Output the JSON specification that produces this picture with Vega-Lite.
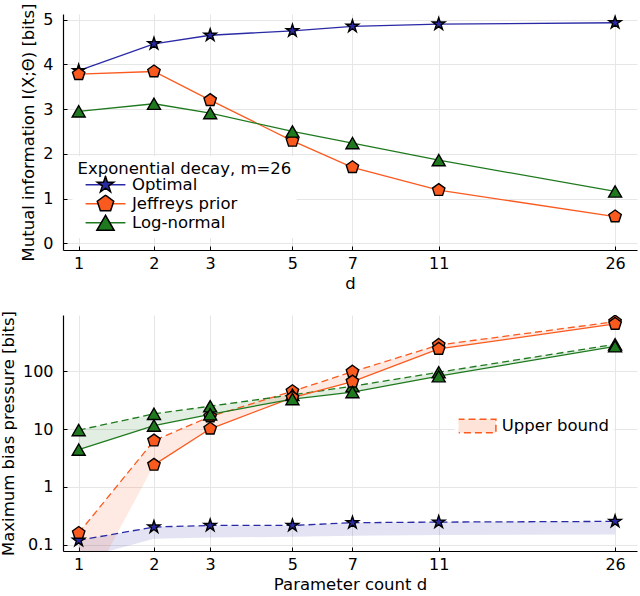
{
  "$schema": "https://vega.github.io/schema/vega-lite/v6.json",
  "background": "white",
  "padding": {"left": 0, "top": 3, "right": 3, "bottom": 2},
  "spacing": 18,
  "datasets": {
    "mi": [
      {"d": 1, "method": "Optimal", "mi": 3.86},
      {"d": 2, "method": "Optimal", "mi": 4.46},
      {"d": 3, "method": "Optimal", "mi": 4.65},
      {"d": 5, "method": "Optimal", "mi": 4.75},
      {"d": 7, "method": "Optimal", "mi": 4.85},
      {"d": 11, "method": "Optimal", "mi": 4.9},
      {"d": 26, "method": "Optimal", "mi": 4.93},
      {"d": 1, "method": "Jeffreys prior", "mi": 3.78},
      {"d": 2, "method": "Jeffreys prior", "mi": 3.84},
      {"d": 3, "method": "Jeffreys prior", "mi": 3.2},
      {"d": 5, "method": "Jeffreys prior", "mi": 2.29},
      {"d": 7, "method": "Jeffreys prior", "mi": 1.7},
      {"d": 11, "method": "Jeffreys prior", "mi": 1.19},
      {"d": 26, "method": "Jeffreys prior", "mi": 0.6},
      {"d": 1, "method": "Log-normal", "mi": 2.95},
      {"d": 2, "method": "Log-normal", "mi": 3.12},
      {"d": 3, "method": "Log-normal", "mi": 2.91},
      {"d": 5, "method": "Log-normal", "mi": 2.5},
      {"d": 7, "method": "Log-normal", "mi": 2.24},
      {"d": 11, "method": "Log-normal", "mi": 1.86},
      {"d": 26, "method": "Log-normal", "mi": 1.16}
    ],
    "bias": [
      {"d": 1, "method": "Optimal", "upper": 0.119, "actual": null, "lower": 0.056},
      {"d": 2, "method": "Optimal", "upper": 0.202, "actual": null, "lower": 0.127},
      {"d": 3, "method": "Optimal", "upper": 0.215, "actual": null, "lower": 0.133},
      {"d": 5, "method": "Optimal", "upper": 0.215, "actual": null, "lower": 0.137},
      {"d": 7, "method": "Optimal", "upper": 0.24, "actual": null, "lower": 0.143},
      {"d": 11, "method": "Optimal", "upper": 0.246, "actual": null, "lower": 0.147},
      {"d": 26, "method": "Optimal", "upper": 0.253, "actual": null, "lower": 0.15},
      {"d": 1, "method": "Jeffreys prior", "upper": 0.159, "actual": null, "lower": 0.009},
      {"d": 2, "method": "Jeffreys prior", "upper": 6.3, "actual": 2.4, "lower": 2.4},
      {"d": 3, "method": "Jeffreys prior", "upper": 16.5, "actual": 10.1, "lower": 10.1},
      {"d": 5, "method": "Jeffreys prior", "upper": 45, "actual": 35, "lower": 35},
      {"d": 7, "method": "Jeffreys prior", "upper": 98, "actual": 66, "lower": 66},
      {"d": 11, "method": "Jeffreys prior", "upper": 284, "actual": 243, "lower": 243},
      {"d": 26, "method": "Jeffreys prior", "upper": 719, "actual": 656, "lower": 656},
      {"d": 1, "method": "Log-normal", "upper": 9.6, "actual": 4.4, "lower": 4.4},
      {"d": 2, "method": "Log-normal", "upper": 18.3, "actual": 11.5, "lower": 11.5},
      {"d": 3, "method": "Log-normal", "upper": 24.8, "actual": 18, "lower": 18},
      {"d": 5, "method": "Log-normal", "upper": 39, "actual": 33, "lower": 33},
      {"d": 7, "method": "Log-normal", "upper": 55, "actual": 43.5, "lower": 43.5},
      {"d": 11, "method": "Log-normal", "upper": 96, "actual": 82, "lower": 82},
      {"d": 26, "method": "Log-normal", "upper": 292, "actual": 270, "lower": 270}
    ]
  },
  "vconcat": [
    {
      "width": 574,
      "height": 236,
      "data": {"name": "mi"},
      "encoding": {
        "x": {
          "field": "d", "type": "quantitative", "title": "d",
          "scale": {"type": "symlog", "constant": 1.5, "domain": [0.8306, 28.83], "nice": false, "zero": false},
          "axis": {"values": [1, 2, 3, 5, 7, 11, 26], "labelFlush": false, "labelOverlap": false}
        },
        "y": {
          "field": "mi", "type": "quantitative", "title": "Mutual information I(X;Θ) [bits]",
          "scale": {"domain": [-0.148, 5.125], "nice": false, "zero": false},
          "axis": {"values": [0, 1, 2, 3, 4, 5], "labelOverlap": false}
        }
      },
      "layer": [
        {
          "mark": {"type": "line", "strokeWidth": 1.3},
          "encoding": {
            "color": {
              "field": "method", "type": "nominal",
              "scale": {"domain": ["Optimal", "Jeffreys prior", "Log-normal"], "range": ["#2a2aa6", "#fb5a1f", "#1f7a1f"]},
              "legend": {
                "orient": "none", "legendX": 9.5, "legendY": 142,
                "title": "Exponential decay, m=26", "titlePadding": -2, "titleLimit": 400,
                "symbolType": "M-2.3,0L2.3,0", "symbolSize": 300, "symbolStrokeWidth": 1.5,
                "clipHeight": 18.7, "rowPadding": 0, "symbolOffset": 18.5, "labelOffset": 17,
                "fillColor": "white", "padding": 5
              }
            }
          }
        },
        {
          "mark": {"type": "point", "filled": true, "size": 170, "stroke": "black", "strokeWidth": 1.4, "opacity": 1},
          "encoding": {
            "color": {
              "field": "method", "type": "nominal",
              "scale": {"domain": ["Optimal", "Jeffreys prior", "Log-normal"], "range": ["#2a2aa6", "#fb5a1f", "#1f7a1f"]},
              "legend": {
                "orient": "none", "legendX": 9.5, "legendY": 156.5, "title": null, "labelExpr": "''",
                "symbolSize": 300, "symbolStrokeWidth": 1.5, "symbolStrokeColor": "black",
                "clipHeight": 18.7, "rowPadding": 0, "symbolOffset": 18.5, "labelOffset": 17,
                "padding": 5
              }
            },
            "shape": {
              "field": "method", "type": "nominal",
              "scale": {
                "domain": ["Optimal", "Jeffreys prior", "Log-normal"],
                "range": [
                  "M0,-1L0.2245,-0.309L0.951,-0.309L0.363,0.118L0.588,0.809L0,0.382L-0.588,0.809L-0.363,0.118L-0.951,-0.309L-0.2245,-0.309Z",
                  "M0,-1L0.951,-0.309L0.588,0.809L-0.588,0.809L-0.951,-0.309Z",
                  "triangle-up"
                ]
              },
              "legend": {
                "orient": "none", "legendX": 9.5, "legendY": 156.5, "title": null, "labelExpr": "''",
                "symbolSize": 300, "symbolStrokeWidth": 1.5, "symbolStrokeColor": "black",
                "clipHeight": 18.7, "rowPadding": 0, "symbolOffset": 18.5, "labelOffset": 17,
                "padding": 5
              }
            }
          }
        }
      ],
      "resolve": {
        "scale": {"color": "independent", "shape": "independent"},
        "legend": {"color": "independent", "shape": "independent"}
      }
    },
    {
      "width": 574,
      "height": 236,
      "data": {"name": "bias"},
      "encoding": {
        "x": {
          "field": "d", "type": "quantitative", "title": "Parameter count d",
          "scale": {"type": "symlog", "constant": 1.5, "domain": [0.8306, 28.83], "nice": false, "zero": false},
          "axis": {"values": [1, 2, 3, 5, 7, 11, 26], "labelFlush": false, "labelOverlap": false}
        },
        "color": {
          "field": "method", "type": "nominal",
          "scale": {"domain": ["Optimal", "Jeffreys prior", "Log-normal"], "range": ["#2a2aa6", "#fb5a1f", "#1f7a1f"]},
          "legend": null
        }
      },
      "layer": [
        {
          "mark": {"type": "area", "opacity": 0.13, "clip": true},
          "encoding": {
            "y": {
              "field": "lower", "type": "quantitative", "title": "Maximum bias pressure [bits]",
              "scale": {"type": "log", "domain": [0.0778, 938], "nice": false},
              "axis": {"values": [0.1, 1, 10, 100], "format": "~g", "labelOverlap": false}
            },
            "y2": {"field": "upper"}
          }
        },
        {
          "mark": {"type": "line", "strokeWidth": 1.3, "clip": true},
          "encoding": {
            "y": {"field": "upper", "type": "quantitative", "title": "Maximum bias pressure [bits]"},
            "strokeDash": {
              "datum": "Upper bound",
              "scale": {"range": [[7, 4]]},
              "legend": {
                "orient": "none", "legendX": 391.7, "legendY": 97, "title": null,
                "symbolType": "M-2.4,-0.85L2.4,-0.85L2.4,0.85L-2.4,0.85Z", "symbolSize": 256, "symbolStrokeWidth": 1.5,
                "symbolStrokeColor": "#fb5a1f", "symbolFillColor": "#fde3d8",
                "clipHeight": 20, "symbolOffset": 9, "labelOffset": 16, "padding": 4, "fillColor": "white",
                "encode": {
                  "symbols": {
                    "update": {
                      "strokeDash": {"value": [7, 4, 7, 4, 7, 4, 5.4, 200]},
                      "stroke": {"value": "#fb5a1f"},
                      "fill": {"value": "#fde3d8"},
                      "opacity": {"value": 1},
                      "fillOpacity": {"value": 1},
                      "strokeWidth": {"value": 1.5}
                    }
                  }
                }
              }
            }
          }
        },
        {
          "transform": [{"filter": "datum.actual != null"}],
          "mark": {"type": "line", "strokeWidth": 1.3, "clip": true},
          "encoding": {
            "y": {"field": "actual", "type": "quantitative", "title": "Maximum bias pressure [bits]"}
          }
        },
        {
          "mark": {"type": "point", "filled": true, "size": 170, "stroke": "black", "strokeWidth": 1.4, "opacity": 1, "clip": true},
          "encoding": {
            "y": {"field": "upper", "type": "quantitative", "title": "Maximum bias pressure [bits]"},
            "shape": {
              "field": "method", "type": "nominal", "legend": null,
              "scale": {
                "domain": ["Optimal", "Jeffreys prior", "Log-normal"],
                "range": [
                  "M0,-1L0.2245,-0.309L0.951,-0.309L0.363,0.118L0.588,0.809L0,0.382L-0.588,0.809L-0.363,0.118L-0.951,-0.309L-0.2245,-0.309Z",
                  "M0,-1L0.951,-0.309L0.588,0.809L-0.588,0.809L-0.951,-0.309Z",
                  "triangle-up"
                ]
              }
            }
          }
        },
        {
          "transform": [{"filter": "datum.actual != null"}],
          "mark": {"type": "point", "filled": true, "size": 170, "stroke": "black", "strokeWidth": 1.4, "opacity": 1, "clip": true},
          "encoding": {
            "y": {"field": "actual", "type": "quantitative", "title": "Maximum bias pressure [bits]"},
            "shape": {"field": "method", "type": "nominal", "legend": null}
          }
        }
      ]
    }
  ],
  "resolve": {
    "scale": {"color": "independent", "shape": "independent", "strokeDash": "independent"},
    "legend": {"color": "independent", "shape": "independent", "strokeDash": "independent"}
  },
  "config": {
    "font": "DejaVu Sans",
    "view": {"stroke": null},
    "axis": {
      "labelFont": "DejaVu Sans", "labelFontSize": 16, "labelColor": "black",
      "titleFont": "DejaVu Sans", "titleFontSize": 16.5, "titleFontWeight": "normal", "titleColor": "black",
      "domainColor": "black", "domainWidth": 1.2, "tickColor": "black", "tickSize": -4, "tickWidth": 1,
      "gridColor": "#e6e6e6", "gridWidth": 1
    },
    "axisX": {"labelPadding": 9, "titlePadding": 4},
    "axisY": {"labelPadding": 14, "titlePadding": 6},
    "legend": {
      "labelFont": "DejaVu Sans", "labelFontSize": 16.5, "labelColor": "black",
      "titleFont": "DejaVu Sans", "titleFontSize": 16.5, "titleFontWeight": "normal", "titleColor": "black"
    }
  }
}
